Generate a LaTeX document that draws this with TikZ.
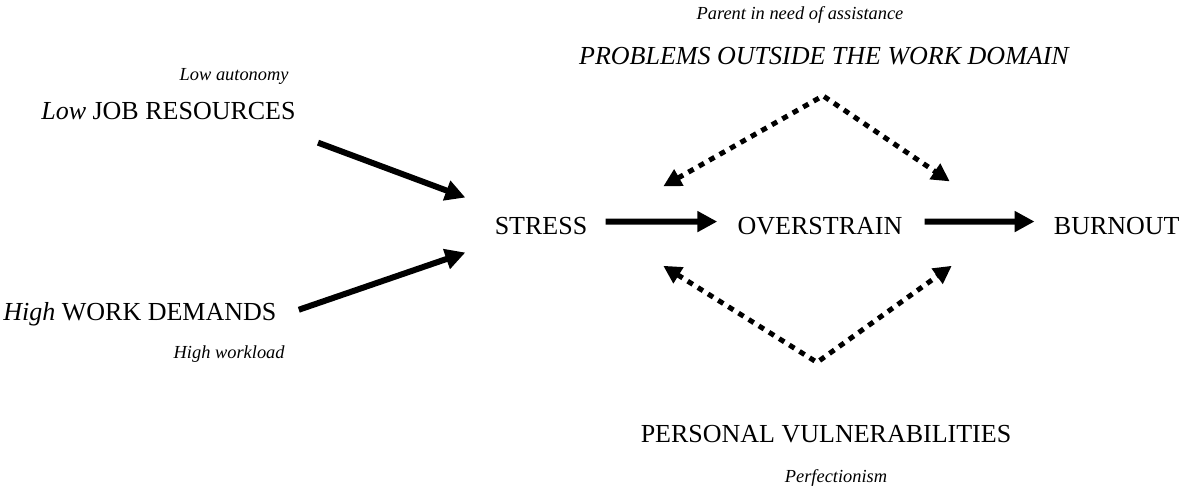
\documentclass[tikz,border=0pt]{standalone}
\usepackage{fontspec}
\setmainfont{Liberation Serif}
\usetikzlibrary{positioning}
\usetikzlibrary{arrows.meta}

\begin{document}
\begin{tikzpicture}[x=0.5pt, y=-0.5pt,
    every node/.style={inner sep=0pt, font=\fontsize{13}{15}\selectfont},
    note/.style={font=\fontsize{9.2}{11}\selectfont\itshape},
    flow/.style={-{Triangle[length=10pt, width=10pt]}, line width=3pt},
    link/.style={{Triangle[length=9pt, width=9pt]}-{Triangle[length=9pt, width=9pt]}, line width=2.5pt, dash pattern=on 3pt off 3pt}]
    \useasboundingbox (0,0) rectangle (1183,489);

    % main chain
    \node (str) [anchor=base] at (541,234) {STRESS};
    \node (ovs) [anchor=base] at (820,234) {OVERSTRAIN};
    \node (brn) [anchor=base east] at (1180,234) {BURNOUT};

    % causes on the left
    \node (job) [anchor=base east] at (296,119) {\textit{Low} JOB RESOURCES};
    \node (auton) [note, anchor=base east] at (289,80) {Low autonomy};
    \node (dem) [anchor=base west] at (3,320) {\textit{High} WORK DEMANDS};
    \node (wload) [note, anchor=base east] at (285,358) {High workload};

    % moderators
    \node (prob) [anchor=base, font=\fontsize{13}{15}\selectfont\itshape] at (824,64) {PROBLEMS OUTSIDE THE WORK DOMAIN};
    \node (par) [note, anchor=base] at (800,19) {Parent in need of assistance};
    \node (pers) [anchor=base] at (826,442) {PERSONAL VULNERABILITIES};
    \node (perf) [note, anchor=base] at (836,482) {Perfectionism};

    \coordinate (tapex) at ([shift={(-1,31)}]prob.south);
    \coordinate (bapex) at ([shift={(-9,-62)}]pers.north);

    \draw[flow] ([shift={(22,23)}]job.south east) -- ([shift={(-29,-28)}]str.west);
    \draw[flow] ([shift={(22,-4)}]dem.east) -- ([shift={(-29,27)}]str.west);
    \draw[flow] ([shift={(18,-4)}]str.east) -- ([shift={(-20,-4)}]ovs.west);
    \draw[flow] ([shift={(22,-4)}]ovs.east) -- ([shift={(-19,-4)}]brn.west);

    \draw[link] ([shift={(-74,-30)}]ovs.north west) -- (tapex) -- ([shift={(47,-35)}]ovs.north east);
    \draw[link] ([shift={(-74,31)}]ovs.south west) -- (bapex) -- ([shift={(49,31)}]ovs.south east);
\end{tikzpicture}
\end{document}
